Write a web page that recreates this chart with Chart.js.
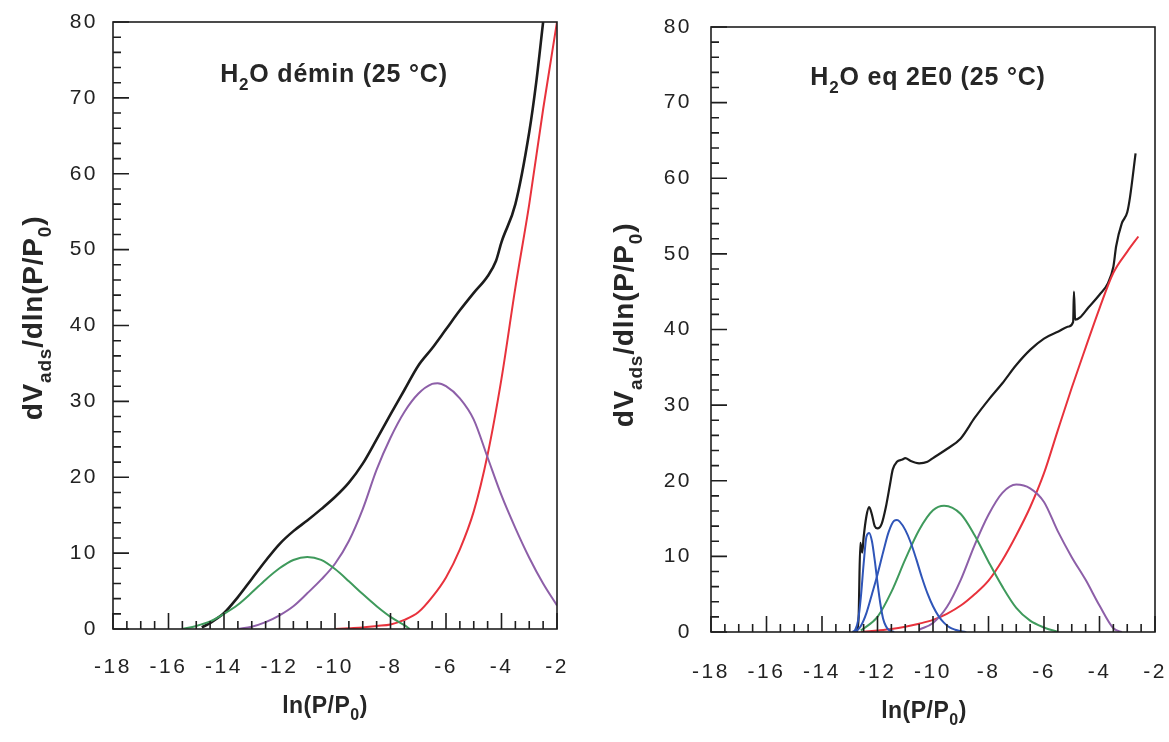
<!DOCTYPE html>
<html>
<head>
<meta charset="utf-8">
<script src="https://cdn.jsdelivr.net/npm/chart.js@4.4.1/dist/chart.umd.min.js"></script>
<style>
    html, body { margin: 0; padding: 0; background: #fff; }
    #wrap { position: relative; width: 1169px; height: 742px; }
    #demin { position: absolute; left: 0; top: 0; }
    #eq2e0 { position: absolute; left: 580px; top: 0; }
</style>
</head>
<body>
<div id="wrap">
    <canvas id="demin" width="580" height="742"></canvas>
    <canvas id="eq2e0" width="589" height="742"></canvas>
</div>
<script>
// ---- left panel : H2O démin ----
var deminBlackX = [-14.8, -14.5, -14, -13.5, -13, -12.5, -12, -11.5, -11, -10.5, -10, -9.5, -9, -8.5, -8, -7.5, -7, -6.5, -6, -5.5, -5, -4.5, -4.2, -4, -3.5, -3, -2.75, -2.5];
var deminBlackY = [0.2, 0.8, 2.1, 4.2, 6.6, 9, 11.2, 12.9, 14.3, 15.8, 17.4, 19.3, 21.8, 25, 28.3, 31.5, 34.7, 37, 39.5, 42, 44.3, 46.5, 48.5, 51, 56, 65.5, 72, 80];
var deminGreenX = [-15.5, -15, -14.5, -14, -13.5, -13, -12.5, -12, -11.5, -11, -10.5, -10, -9.5, -9, -8.5, -8, -7.5, -7.3];
var deminGreenY = [0, 0.4, 1.0, 2.0, 3.2, 4.8, 6.5, 8.0, 9.1, 9.5, 9.1, 7.9, 6.3, 4.6, 3.0, 1.6, 0.5, 0];
var deminPurpleX = [-13.5, -13, -12.5, -12, -11.5, -11, -10.5, -10, -9.5, -9, -8.5, -8, -7.5, -7, -6.5, -6.3, -6, -5.5, -5, -4.5, -4, -3.5, -3, -2.5, -2];
var deminPurpleY = [0, 0.3, 0.9, 1.8, 3.0, 4.7, 6.5, 8.6, 11.6, 15.8, 21, 25.2, 28.6, 31, 32.3, 32.4, 32, 30.4, 27.6, 22.6, 17.6, 13.3, 9.4, 6, 3.1];
var deminRedX = [-10, -9.5, -9, -8.5, -8, -7.5, -7, -6.5, -6, -5.5, -5, -4.5, -4, -3.5, -3, -2.5, -2];
var deminRedY = [0, 0.1, 0.2, 0.4, 0.6, 1.2, 2.2, 4.2, 6.8, 10.5, 15.5, 23, 33, 45, 56, 68.5, 80];

// ---- right panel : H2O eq 2E0 ----
var eqBlackX = [-12.75, -12.68, -12.62, -12.55, -12.5, -12.4, -12.3, -12.2, -12.1, -12, -11.85, -11.7, -11.55, -11.45, -11.3, -11.1, -11, -10.8, -10.5, -10.2, -10, -9.5, -9, -8.5, -8, -7.5, -7, -6.5, -6, -5.5, -5.1, -4.95, -4.92, -4.88, -4.7, -4.4, -4, -3.7, -3.5, -3.4, -3.2, -3, -2.9, -2.7];
var eqBlackY = [0, 2, 11.8, 10.5, 12.5, 15.3, 16.5, 15.5, 14, 13.7, 14.3, 16.5, 19.5, 21.5, 22.5, 22.8, 23, 22.6, 22.3, 22.5, 23, 24.2, 25.6, 28.3, 30.7, 32.9, 35.3, 37.3, 38.8, 39.7, 40.4, 41, 45, 41.3, 41.6, 42.9, 44.6, 46.1, 48.3, 51, 54, 55.5, 57.5, 63.3];
var eqBlue1X = [-12.9, -12.8, -12.7, -12.6, -12.5, -12.4, -12.3, -12.2, -12.1, -12, -11.9, -11.8, -11.7, -11.6, -11.4];
var eqBlue1Y = [0, 0.3, 1.5, 4.6, 9, 12.6, 13.1, 12, 9.5, 6.5, 3.8, 1.8, 0.8, 0.3, 0];
var eqBlue2X = [-12.8, -12.6, -12.4, -12.2, -12, -11.8, -11.6, -11.4, -11.3, -11.2, -11, -10.8, -10.6, -10.4, -10.2, -10, -9.8, -9.6, -9.4, -9.2, -9, -8.8];
var eqBlue2Y = [0, 0.8, 2.5, 5, 7.6, 10.5, 13.2, 14.7, 14.8, 14.6, 13.5, 11.8, 9.6, 7.2, 5.1, 3.4, 2.1, 1.2, 0.6, 0.3, 0.1, 0];
var eqGreenX = [-12.6, -12, -11.5, -11, -10.5, -10, -9.6, -9, -8.5, -8, -7.5, -7, -6.5, -6, -5.5];
var eqGreenY = [0.2, 2, 5.3, 9.6, 13.5, 16.1, 16.7, 15.6, 12.8, 9.3, 6, 3.2, 1.5, 0.6, 0];
var eqPurpleX = [-10.5, -10, -9.5, -9, -8.5, -8, -7.5, -7, -6.5, -6, -5.5, -5, -4.5, -4, -3.5, -3.2];
var eqPurpleY = [0.3, 1.2, 3.3, 6.9, 11.5, 15.5, 18.4, 19.5, 19, 17.2, 13.3, 9.9, 6.9, 3.5, 0.5, 0];
var eqRedX = [-12.6, -12, -11.5, -11, -10.5, -10, -9.5, -9, -8.5, -8, -7.5, -7, -6.5, -6, -5.5, -5, -4.5, -4, -3.5, -3, -2.6];
var eqRedY = [0, 0.2, 0.4, 0.7, 1.1, 1.6, 2.4, 3.5, 5, 6.8, 9.5, 12.8, 16.5, 21, 26.7, 32.3, 37.6, 42.8, 47.5, 50.3, 52.3];

var xTicks = [-18, -2];
var yTicks = [0, 80];

var FONT = '"Liberation Sans", Arial, sans-serif';

function pts(xs, ys) {
    return xs.map(function (x, i) { return { x: x, y: ys[i] }; });
}

function line(xs, ys, color, width) {
    return {
        data: pts(xs, ys),
        borderColor: color,
        borderWidth: width,
        pointRadius: 0,
        showLine: true,
        fill: false,
        cubicInterpolationMode: 'monotone'
    };
}

// text with subscripts: parts = [[text, isSub], ...]
function drawRich(ctx, parts, x, y, size, spacing) {
    var sub = Math.round(size * 0.68);
    ctx.letterSpacing = spacing + 'px';
    var w = 0;
    parts.forEach(function (p) {
        ctx.font = 'bold ' + (p[1] ? sub : size) + 'px ' + FONT;
        w += ctx.measureText(p[0]).width;
    });
    var cx = x - w / 2;
    ctx.textAlign = 'left';
    ctx.textBaseline = 'alphabetic';
    parts.forEach(function (p) {
        ctx.font = 'bold ' + (p[1] ? sub : size) + 'px ' + FONT;
        ctx.fillText(p[0], cx, p[1] ? y + size * 0.32 : y);
        cx += ctx.measureText(p[0]).width;
    });
}

var frameTicks = {
    id: 'frameTicks',
    beforeDraw: function (chart) {
        chart.ctx.letterSpacing = '2.5px';
    },
    afterDraw: function (chart, args, o) {
        var ctx = chart.ctx, a = chart.chartArea;
        var xs = chart.scales.x, ys = chart.scales.y;
        ctx.save();
        ctx.strokeStyle = '#1e1e1e';
        ctx.lineWidth = 1.6;
        ctx.strokeRect(a.left, a.top, a.right - a.left, a.bottom - a.top);
        ctx.beginPath();
        for (var v = xs.min; v <= xs.max + 1e-9; v += 0.5) {
            var px = xs.getPixelForValue(v);
            var len = Math.abs(v % 2) < 1e-9 ? 16 : 8;
            ctx.moveTo(px, a.bottom);
            ctx.lineTo(px, a.bottom - len);
        }
        for (var w = ys.min; w <= ys.max; w += 2) {
            var py = ys.getPixelForValue(w);
            var l2 = w % 10 === 0 ? 16 : 8;
            ctx.moveTo(a.left, py);
            ctx.lineTo(a.left + l2, py);
        }
        ctx.stroke();

        ctx.fillStyle = '#262626';
        drawRich(ctx, o.title, o.titleX, o.titleY, 25, 0.8);
        drawRich(ctx, [['ln(P/P', false], ['0', true], [')', false]], o.xTitleX, o.xTitleY, 23, 0.5);
        ctx.save();
        ctx.translate(o.yTitleX, o.yTitleY);
        ctx.rotate(-Math.PI / 2);
        drawRich(ctx, [['dV', false], ['ads', true], ['/dln(P/P', false], ['0', true], [')', false]], 0, 0, 28, 0.8);
        ctx.restore();
        ctx.restore();
    }
};

function makeChart(id, datasets, pad, yWidth, xHeight, xPad, yPad, deco) {
    return new Chart(document.getElementById(id).getContext('2d'), {
        type: 'scatter',
        data: { datasets: datasets },
        options: {
            responsive: false,
            animation: false,
            layout: { padding: pad },
            plugins: {
                legend: { display: false },
                tooltip: { enabled: false },
                frameTicks: deco
            },
            scales: {
                x: {
                    type: 'linear',
                    min: xTicks[0],
                    max: xTicks[1],
                    grid: { display: false, drawTicks: false },
                    border: { display: false },
                    ticks: { stepSize: 2, padding: xPad, color: '#222', font: { family: FONT, size: 21 } },
                    afterFit: function (s) {
                        s.height = xHeight;
                        s.paddingLeft = 0;
                        s.paddingRight = 0;
                    }
                },
                y: {
                    type: 'linear',
                    min: yTicks[0],
                    max: yTicks[1],
                    grid: { display: false, drawTicks: false },
                    border: { display: false },
                    ticks: { stepSize: 10, padding: yPad, color: '#222', font: { family: FONT, size: 21 } },
                    afterFit: function (s) {
                        s.width = yWidth;
                        s.paddingTop = 0;
                        s.paddingBottom = 0;
                    }
                }
            }
        },
        plugins: [frameTicks]
    });
}

var RED = '#e8323c', GREEN = '#3f9a5c', PURPLE = '#8d5fa8', BLUE = '#2f55b8', BLACK = '#1c1c1c';

makeChart('demin', [
    line(deminGreenX, deminGreenY, GREEN, 2),
    line(deminPurpleX, deminPurpleY, PURPLE, 2),
    line(deminRedX, deminRedY, RED, 2),
    line(deminBlackX, deminBlackY, BLACK, 2.6)
], { left: 0, right: 23, top: 22, bottom: 0 }, 113, 113, 26, 15, {
    title: [['H', false], ['2', true], ['O démin (25 °C)', false]],
    titleX: 334, titleY: 82,
    xTitleX: 325, xTitleY: 713,
    yTitleX: 42, yTitleY: 318
});

makeChart('eq2e0', [
    line(eqBlue1X, eqBlue1Y, BLUE, 2),
    line(eqBlue2X, eqBlue2Y, BLUE, 2),
    line(eqGreenX, eqGreenY, GREEN, 2),
    line(eqPurpleX, eqPurpleY, PURPLE, 2),
    line(eqRedX, eqRedY, RED, 2),
    line(eqBlackX, eqBlackY, BLACK, 2.2)
], { left: 0, right: 14, top: 27, bottom: 0 }, 131, 110, 28, 19, {
    title: [['H', false], ['2', true], ['O eq 2E0 (25 °C)', false]],
    titleX: 348, titleY: 85,
    xTitleX: 344, xTitleY: 718,
    yTitleX: 53, yTitleY: 325
});
</script>
</body>
</html>
